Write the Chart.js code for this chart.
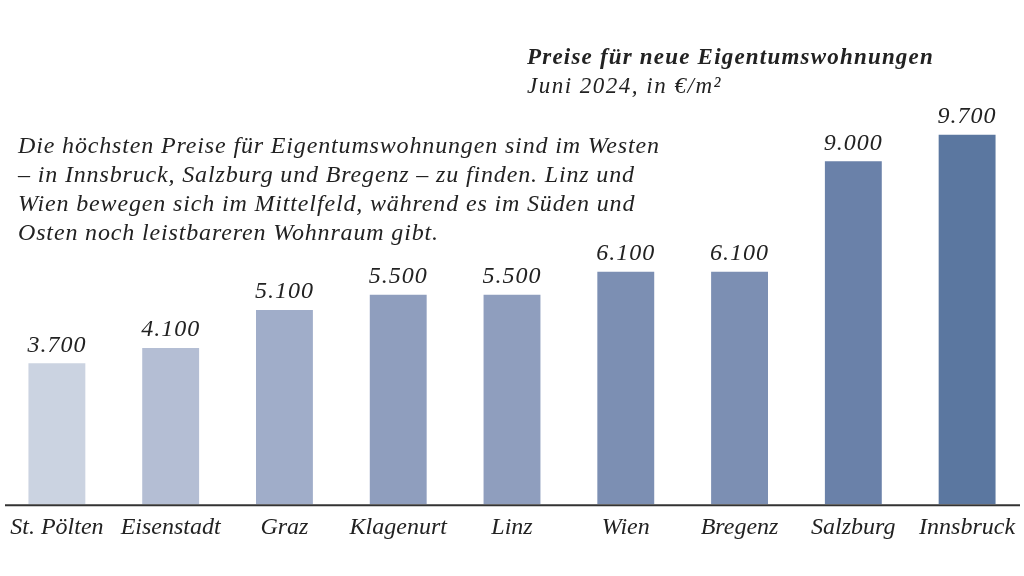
<!DOCTYPE html>
<html lang="de">
<head>
<meta charset="utf-8">
<title>Preise für neue Eigentumswohnungen</title>
<script src="https://cdn.jsdelivr.net/npm/chart.js@4"></script>
<style>
    html, body { margin: 0; padding: 0; background: #fff; }
    #wrap { position: relative; width: 1024px; height: 576px; overflow: hidden; }
    #chart { position: absolute; left: 0; top: 0; }
    .txt { position: absolute; font-family: "Liberation Serif", serif; font-style: italic; color: #222; white-space: nowrap; }
    #title { left: 527px; top: 44px; font-size: 23px; font-weight: bold; letter-spacing: 1.2px; }
    #subtitle { left: 527px; top: 73px; font-size: 23px; letter-spacing: 1.5px; }
    #note { left: 18px; top: 131px; font-size: 24px; line-height: 29px; letter-spacing: 0.85px; }
</style>
</head>
<body>
<div id="wrap">
    <canvas id="chart" width="1024" height="576"></canvas>
    <div class="txt" id="title">Preise für neue Eigentumswohnungen</div>
    <div class="txt" id="subtitle">Juni 2024, in €/m²</div>
    <div class="txt" id="note">Die höchsten Preise für Eigentumswohnungen sind im Westen<br>– in Innsbruck, Salzburg und Bregenz – zu finden. Linz und<br>Wien bewegen sich im Mittelfeld, während es im Süden und<br>Osten noch leistbareren Wohnraum gibt.</div>
</div>
<script>
// Städte und Preise (Euro pro m²)
const cities = ['St. Pölten', 'Eisenstadt', 'Graz', 'Klagenurt', 'Linz', 'Wien', 'Bregenz', 'Salzburg', 'Innsbruck'];
const prices = [3700, 4100, 5100, 5500, 5500, 6100, 6100, 9000, 9700];
const barColors = ['#cbd3e1', '#b4bed4', '#a0adc9', '#8f9ebe', '#8f9ebe', '#7c8fb3', '#7c8fb3', '#6a81a9', '#5b77a0'];

const fontFamily = '"Liberation Serif", serif';

// 9700 -> "9.700"
const fmt = v => String(v).replace(/\B(?=(\d{3})+(?!\d))/g, '.');

// value labels above each bar
const valueLabels = {
    id: 'valueLabels',
    afterDatasetsDraw(chart) {
        const ctx = chart.ctx;
        const meta = chart.getDatasetMeta(0);
        ctx.save();
        ctx.font = 'italic 24px ' + fontFamily;
        ctx.letterSpacing = '1px';
        ctx.fillStyle = '#222';
        ctx.textAlign = 'center';
        ctx.textBaseline = 'bottom';
        meta.data.forEach((bar, i) => {
            ctx.fillText(fmt(prices[i]), bar.x, bar.y - 6);
        });
        ctx.restore();
    }
};

// baseline slightly inset from the canvas edges
const baseLine = {
    id: 'baseLine',
    afterDatasetsDraw(chart) {
        const ctx = chart.ctx;
        const y = chart.scales.y.getPixelForValue(0);
        ctx.save();
        ctx.strokeStyle = '#333';
        ctx.lineWidth = 2;
        ctx.beginPath();
        ctx.moveTo(5, y + 1);
        ctx.lineTo(1020, y + 1);
        ctx.stroke();
        ctx.restore();
    }
};

const ctx = document.getElementById('chart').getContext('2d');
new Chart(ctx, {
    type: 'bar',
    data: {
        labels: cities,
        datasets: [{
            data: prices,
            backgroundColor: barColors,
            borderWidth: 0,
            categoryPercentage: 1,
            barPercentage: 0.5
        }]
    },
    options: {
        responsive: false,
        animation: false,
        layout: { padding: { top: 47, left: 0, right: 0, bottom: 33 } },
        plugins: {
            legend: { display: false },
            tooltip: { enabled: false }
        },
        scales: {
            x: {
                grid: { display: false },
                border: { display: false },
                ticks: {
                    color: '#222',
                    padding: 1,
                    maxRotation: 0,
                    autoSkip: false,
                    font: { family: fontFamily, style: 'italic', size: 24 }
                }
            },
            y: {
                display: false,
                min: 0,
                max: 12000
            }
        }
    },
    plugins: [valueLabels, baseLine]
});
</script>
</body>
</html>
